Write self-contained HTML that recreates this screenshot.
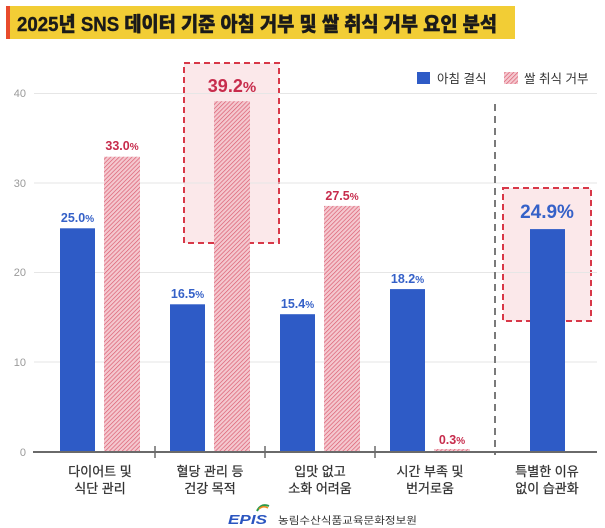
<!DOCTYPE html>
<html><head><meta charset="utf-8">
<style>
html,body{margin:0;padding:0;background:#fff;}
svg{display:block;}
text{font-family:"Liberation Sans","Noto Sans CJK KR",sans-serif;}
</style></head>
<body>
<svg width="605" height="528" viewBox="0 0 605 528" xmlns="http://www.w3.org/2000/svg">
<defs>
<pattern id="hatch" patternUnits="userSpaceOnUse" width="3" height="3" patternTransform="rotate(45)">
<rect width="3" height="3" fill="#f4c8cf"/>
<line x1="0" y1="0" x2="0" y2="3" stroke="#d9566b" stroke-width="1.3"/>
</pattern>
</defs>
<!-- title -->
<rect x="6" y="6" width="509" height="33" fill="#f2cd35"/>
<rect x="6" y="6" width="4" height="33" fill="#e84b2c"/>
<text x="17" y="31" font-size="20" font-weight="900" fill="#1a1a1a" stroke="#1a1a1a" stroke-width="0.4" textLength="480" lengthAdjust="spacingAndGlyphs">2025년 SNS 데이터 기준 아침 거부 및 쌀 취식 거부 요인 분석</text>

<!-- highlight boxes -->
<rect x="184" y="63" width="95" height="180" fill="#fbe8ea" stroke="#d83848" stroke-width="2" stroke-dasharray="6 4"/>
<rect x="503" y="188" width="88" height="133" fill="#fbe8ea" stroke="#d83848" stroke-width="2" stroke-dasharray="6 4"/>

<!-- gridlines -->
<g stroke="#e6e6e6" stroke-width="1">
<line x1="34" y1="93.5" x2="597" y2="93.5"/>
<line x1="34" y1="183" x2="597" y2="183"/>
<line x1="34" y1="272.5" x2="597" y2="272.5"/>
<line x1="34" y1="362" x2="597" y2="362"/>
</g>
<g font-size="11" fill="#9a9a9a" text-anchor="end">
<text x="26" y="97">40</text>
<text x="26" y="187">30</text>
<text x="26" y="276">20</text>
<text x="26" y="366">10</text>
<text x="26" y="456">0</text>
</g>

<!-- bars -->
<g fill="#2e5bc6">
<rect x="60" y="228.3" width="35" height="223.7"/>
<rect x="170" y="304.3" width="35" height="147.7"/>
<rect x="280" y="314.2" width="35" height="137.8"/>
<rect x="390" y="289.1" width="35" height="162.9"/>
<rect x="530" y="229.1" width="35" height="222.9"/>
</g>
<g fill="url(#hatch)">
<rect x="104" y="156.7" width="36" height="295.3"/>
<rect x="214" y="101.2" width="36" height="350.8"/>
<rect x="324" y="205.9" width="36" height="246.1"/>
<rect x="434" y="449" width="36" height="3"/>
</g>

<!-- dashed separator -->
<line x1="495" y1="104" x2="495" y2="455" stroke="#7a7a7a" stroke-width="2" stroke-dasharray="7 5"/>

<!-- axis -->
<line x1="33" y1="452" x2="597" y2="452" stroke="#6a6a6a" stroke-width="2"/>
<g stroke="#6a6a6a" stroke-width="1.5">
<line x1="155" y1="446" x2="155" y2="458"/>
<line x1="265" y1="446" x2="265" y2="458"/>
<line x1="375" y1="446" x2="375" y2="458"/>
</g>

<!-- value labels -->
<g font-size="12.5" font-weight="bold" text-anchor="middle">
<text x="77.5" y="222" fill="#3561c8">25.0<tspan font-size="10">%</tspan></text>
<text x="122" y="150" fill="#c72c4c">33.0<tspan font-size="10">%</tspan></text>
<text x="187.5" y="298" fill="#3561c8">16.5<tspan font-size="10">%</tspan></text>
<text x="297.5" y="308" fill="#3561c8">15.4<tspan font-size="10">%</tspan></text>
<text x="342" y="200" fill="#c72c4c">27.5<tspan font-size="10">%</tspan></text>
<text x="407.5" y="283" fill="#3561c8">18.2<tspan font-size="10">%</tspan></text>
<text x="452" y="444" fill="#c72c4c">0.3<tspan font-size="10">%</tspan></text>
</g>
<text x="232" y="92" font-size="18" font-weight="bold" fill="#c72c4c" text-anchor="middle">39.2<tspan font-size="15">%</tspan></text>
<text x="547" y="218" font-size="19" font-weight="bold" fill="#3561c8" text-anchor="middle">24.9%</text>

<!-- legend -->
<rect x="417" y="72" width="13" height="12" fill="#2e5bc6"/>
<text x="437" y="83" font-size="12.5" fill="#333">아침 결식</text>
<rect x="504" y="72" width="14" height="12" fill="url(#hatch)"/>
<text x="524" y="83" font-size="12.5" fill="#333">쌀 취식 거부</text>

<!-- category labels -->
<g font-size="13" fill="#333" text-anchor="middle" stroke="#333" stroke-width="0.25">
<text x="100" y="476">다이어트 및</text>
<text x="100" y="493">식단 관리</text>
<text x="210" y="476">혈당 관리 등</text>
<text x="210" y="493">건강 목적</text>
<text x="320" y="476">입맛 없고</text>
<text x="320" y="493">소화 어려움</text>
<text x="430" y="476">시간 부족 및</text>
<text x="430" y="493">번거로움</text>
<text x="547" y="476">특별한 이유</text>
<text x="547" y="493">없이 습관화</text>
</g>

<!-- footer -->
<path d="M257 511 Q261 503 269 506" stroke="#2e9b4a" stroke-width="2" fill="none"/>
<path d="M259 509 Q263 505 268 508" stroke="#f08a1c" stroke-width="1.5" fill="none"/>
<text x="228" y="524" font-size="13" font-weight="bold" font-style="italic" fill="#2a55c0" textLength="39" lengthAdjust="spacingAndGlyphs">EPIS</text>
<text x="278" y="524" font-size="10" fill="#333" textLength="139" lengthAdjust="spacingAndGlyphs">농림수산식품교육문화정보원</text>
</svg>
</body></html>
